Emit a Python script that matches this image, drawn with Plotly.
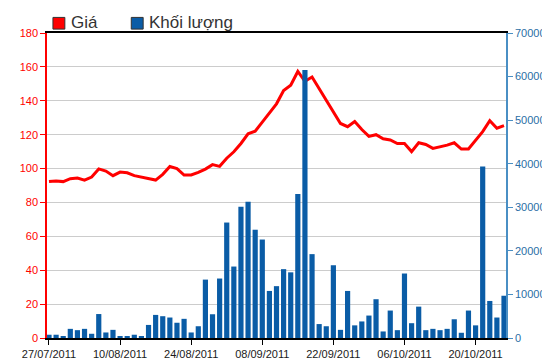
import plotly.graph_objects as go

dates = [
    "27/07/2011", "28/07/2011", "29/07/2011", "01/08/2011", "02/08/2011", "03/08/2011",
    "04/08/2011", "05/08/2011", "08/08/2011", "09/08/2011", "10/08/2011", "11/08/2011",
    "12/08/2011", "15/08/2011", "16/08/2011", "17/08/2011", "18/08/2011", "19/08/2011",
    "22/08/2011", "23/08/2011", "24/08/2011", "25/08/2011", "26/08/2011", "29/08/2011",
    "30/08/2011", "31/08/2011", "01/09/2011", "05/09/2011", "06/09/2011", "07/09/2011",
    "08/09/2011", "09/09/2011", "12/09/2011", "13/09/2011", "14/09/2011", "15/09/2011",
    "16/09/2011", "19/09/2011", "20/09/2011", "21/09/2011", "22/09/2011", "23/09/2011",
    "26/09/2011", "27/09/2011", "28/09/2011", "29/09/2011", "30/09/2011", "03/10/2011",
    "04/10/2011", "05/10/2011", "06/10/2011", "07/10/2011", "10/10/2011", "11/10/2011",
    "12/10/2011", "13/10/2011", "14/10/2011", "17/10/2011", "18/10/2011", "19/10/2011",
    "20/10/2011", "21/10/2011", "24/10/2011", "25/10/2011", "26/10/2011",
]

price = [
    92.3, 92.7, 92.3, 94.0, 94.4, 93.2, 95.0, 99.8, 98.5, 95.8,
    97.9, 97.5, 95.8, 94.9, 94.0, 93.2, 96.6, 101.2, 100.0, 96.2,
    96.2, 97.7, 99.7, 102.3, 101.3, 106.1, 109.9, 114.8, 120.5, 122.0,
    127.4, 132.6, 138.2, 146.0, 149.2, 157.3, 151.5, 154.0, 147.3, 140.6,
    133.4, 126.6, 124.7, 127.8, 123.0, 119.0, 120.0, 117.6, 116.9, 114.8,
    114.8, 110.0, 115.2, 114.2, 111.9, 112.8, 113.8, 115.2, 111.5, 111.5,
    116.7, 121.8, 128.2, 123.8, 125.3,
]

volume = [
    750, 750, 370, 2100, 1800, 2100, 970, 5500, 1270, 1870,
    370, 370, 750, 450, 3000, 5300, 5000, 4700, 3500, 4400,
    1270, 2700, 13400, 5450, 13650, 26500, 16400, 30150, 31270, 24850,
    22600, 10800, 11900, 15800, 15070, 33060, 61500, 19250, 3200, 2700,
    16700, 1870, 10800, 2900, 3800, 5150, 8900, 1500, 6300, 1800,
    14800, 3400, 7200, 1800, 2100, 1800, 2100, 4300, 1200, 6300,
    2900, 39350, 8500, 4700, 9700,
]

tick_dates = dates[::10]
price_ticks = [0, 20, 40, 60, 80, 100, 120, 140, 160, 180]
volume_ticks = [0, 10000, 20000, 30000, 40000, 50000, 60000, 70000]
volume_labels = [str(v) for v in volume_ticks]

RED = "#ff0000"
BLUE = "#0a5ca6"
AXBLUE = "#4a8fc4"
LBLUE = "#2a6ea6"

fig = go.Figure()
fig.add_trace(go.Scatter(
    x=dates, y=price, mode="lines", name="Giá",
    line=dict(color=RED, width=3), yaxis="y",
))
fig.add_trace(go.Bar(
    x=dates, y=volume, name="Khối lượng",
    marker=dict(color=BLUE, line=dict(width=0)), yaxis="y2",
))

L, R, T, B = 35, 52, 25, 26
W, H = 550, 364
pw = W - L - R
ph = H - T - B

def px_x(px):
    return (px - L) / pw

def px_y(py):
    return 1 + (T - py) / ph

fig.update_layout(
    width=W, height=H,
    margin=dict(l=L, r=R, t=T, b=B, pad=0),
    paper_bgcolor="white", plot_bgcolor="white",
    showlegend=False,
    bargap=0.27,
    font=dict(family="Liberation Sans, Arial, sans-serif", size=11),
    xaxis=dict(
        type="category", categoryorder="array", categoryarray=dates,
        range=[-0.28, len(dates) - 1 + 0.28],
        tickvals=tick_dates, ticktext=tick_dates,
        ticks="outside", ticklen=5, tickcolor="#000000",
        showline=True, linecolor="#000000", linewidth=1.5, mirror=True,
        showgrid=False, tickfont=dict(color="#1a1a1a", size=11),
        tickangle=0, zeroline=False,
    ),
    yaxis=dict(
        range=[0, 180], tickvals=price_ticks,
        ticks="outside", ticklen=5, tickcolor=RED,
        showline=True, linecolor=RED, linewidth=1.5,
        showgrid=True, gridcolor="#cccccc", gridwidth=1.2,
        tickfont=dict(color=RED, size=11), zeroline=False,
    ),
    yaxis2=dict(
        range=[0, 70000], tickvals=volume_ticks, ticktext=volume_labels,
        overlaying="y", side="right",
        ticks="outside", ticklen=5, tickcolor=AXBLUE,
        showline=True, linecolor=AXBLUE, linewidth=1.5,
        showgrid=False, tickfont=dict(color=LBLUE, size=11), zeroline=False,
    ),
    shapes=[
        dict(type="rect", xref="paper", yref="paper",
             x0=px_x(41), x1=px_x(53), y0=px_y(21), y1=px_y(9),
             fillcolor=RED, line=dict(color="#333333", width=1)),
        dict(type="rect", xref="paper", yref="paper",
             x0=px_x(120), x1=px_x(132), y0=px_y(21), y1=px_y(9),
             fillcolor=BLUE, line=dict(color="#333333", width=1)),
    ],
    annotations=[
        dict(text="Giá", xref="paper", yref="paper", x=px_x(57), y=px_y(14.5),
             xanchor="left", yanchor="middle", showarrow=False,
             font=dict(size=17, color="#333333")),
        dict(text="Khối lượng", xref="paper", yref="paper", x=px_x(136), y=px_y(14.5),
             xanchor="left", yanchor="middle", showarrow=False,
             font=dict(size=17, color="#333333")),
    ],
)

fig.write_html("out.html")
